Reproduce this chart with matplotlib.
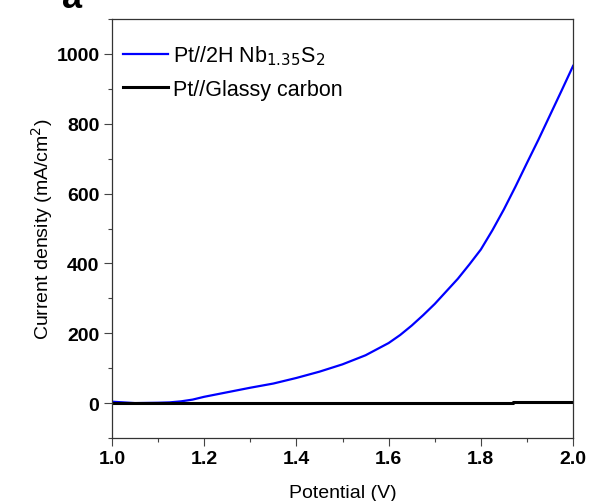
import numpy as np
import matplotlib.pyplot as plt
from matplotlib.ticker import MultipleLocator

plt.rcParams['font.family'] = ['Liberation Sans', 'DejaVu Sans']

# potential (V)
potential = [1.00, 1.05, 1.10, 1.125, 1.15, 1.175, 1.20, 1.25, 1.30, 1.35, 1.40, 1.45,
             1.50, 1.55, 1.60, 1.625, 1.65, 1.675, 1.70, 1.725, 1.75, 1.775,
             1.80, 1.825, 1.85, 1.875, 1.90, 1.925, 1.95, 1.975, 2.00]
# current density (mA/cm2)
nbs2 = [4, 0, 1, 2, 5, 10, 18, 31, 44, 56, 72, 90,
        111, 137, 172, 195, 222, 252, 284, 320, 356, 397,
        440, 495, 555, 620, 688, 755, 825, 895, 966]
glassy_potential = [1.00, 1.87, 1.87, 2.00]
glassy = [0, 0, 3, 3]

fig = plt.figure(figsize=(5.89, 5.02), dpi=100)
ax = fig.add_axes([0.190, 0.1255, 0.783, 0.8345])

ax.plot(potential, nbs2, color='#0000ff', lw=1.6, label=r'Pt//2H Nb$_{1.35}$S$_2$')
ax.plot(glassy_potential, glassy, color='black', lw=2.2, label='Pt//Glassy carbon')

ax.set_xlim(1.0, 2.0)
ax.set_ylim(-100, 1100)
ax.xaxis.set_minor_locator(MultipleLocator(0.1))
ax.yaxis.set_minor_locator(MultipleLocator(100))
ax.set_xticks([1.0, 1.2, 1.4, 1.6, 1.8, 2.0])
ax.set_xticklabels(['1.0', '1.2', '1.4', '1.6', '1.8', '2.0'], fontweight='bold')
ax.set_yticks([0, 200, 400, 600, 800, 1000])
ax.set_yticklabels(['0', '200', '400', '600', '800', '1000'], fontweight='bold')
ax.tick_params(which='both', direction='out', top=False, right=False,
               color='#444444', width=0.8)
ax.tick_params(which='major', length=6, labelsize=14, pad=3)
ax.tick_params(which='minor', length=3)
for s in ax.spines.values():
    s.set_color('#333333')
    s.set_linewidth(0.9)

ax.set_xlabel('Potential (V)', fontsize=14, labelpad=12)
ax.set_ylabel('Current density (mA/cm$^2$)', fontsize=14, labelpad=1)

ax.legend(loc='upper left', frameon=False, fontsize=15.5, handlelength=2.1,
          handletextpad=0.25, labelspacing=0.55, borderaxespad=0.0,
          bbox_to_anchor=(0.005, 0.963))

fig.text(0.106, 1 - 8 / 502, 'a', fontsize=26, fontweight='bold',
         va='baseline', ha='left')

fig.savefig('out.png', dpi=100)
